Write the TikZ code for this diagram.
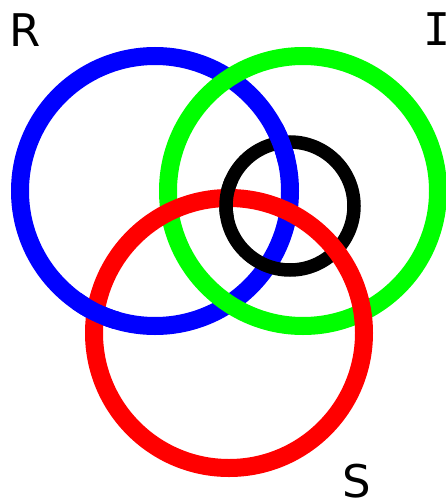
\documentclass[tikz,border=0pt]{standalone}
\usepackage{fontspec}
\setmainfont{DejaVu Sans}
\newfontfamily\barfont{DejaVu Sans Mono}
\definecolor{rBlue}{RGB}{0,0,255}
\definecolor{iGreen}{RGB}{0,255,0}
\definecolor{sRed}{RGB}{255,0,0}

\begin{document}
\begin{tikzpicture}[x=1pt,y=-1pt,
  ring/.style={line width=18pt},
  core/.style={draw=black,line width=13.5pt},
  lab/.style={inner sep=0pt,font=\fontsize{45}{54}\selectfont}]
\useasboundingbox[fill=white] (0,0) rectangle (446,503);

\coordinate (cR) at (155,191);
\coordinate (cI) at (303,191);
\coordinate (cS) at (229,333);
\coordinate (cC) at (290,206);

\draw[ring,draw=rBlue]  (cR) circle (135);
\draw[core]             (cC) circle (64);
\draw[ring,draw=iGreen] (cI) circle (135);
\draw[ring,draw=sRed]   (cS) circle (135);

% crossings where the lower ring comes back on top
\begin{scope}
  \clip (96,312) circle (24);
  \draw[ring,draw=rBlue] (cR) circle (135);
\end{scope}
\begin{scope}
  \clip (226.5,198) circle (20);
  \draw[core] (cC) circle (64);
\end{scope}
\begin{scope}
  \clip (281,143) circle (20);
  \draw[ring,draw=rBlue] (cR) circle (135);
\end{scope}

\node[lab] (lR) at (25,30) {R};
\node[lab,font=\barfont\fontsize{45}{54}\selectfont] (lI) at (437.5,29) {I};
\node[lab] (lS) at (356.5,481.5) {S};
\end{tikzpicture}
\end{document}
